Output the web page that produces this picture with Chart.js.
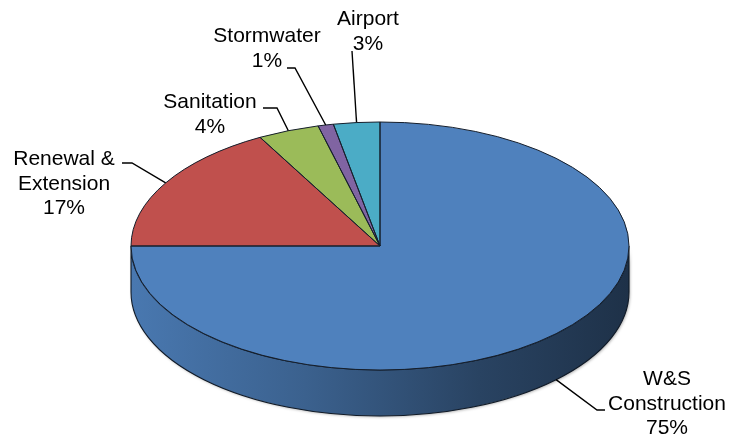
<!DOCTYPE html>
<html>
<head>
<meta charset="utf-8">
<script src="https://cdn.jsdelivr.net/npm/chart.js@4"></script>
<style>
  html, body { margin:0; padding:0; background:#fff; }
  #wrap { width:735px; height:440px; }
</style>
</head>
<body>
<div id="wrap"><canvas id="pie" width="735" height="440"></canvas></div>
<script>
// --------- DADOS ----------
const categories = [["W&S", "Construction"], ["Renewal &", "Extension"], ["Sanitation"], ["Stormwater"], ["Airport"]];
const shares = [75, 17, 4, 1, 3];
const sliceColors = ["#4F81BD", "#C0504D", "#9BBB59", "#8064A2", "#4BACC6"];

// --------- LAYOUT (elipse 3D e rótulos) ----------
const ell = { cx: 380, cy: 246, a: 249, b: 124, depth: 46 };
const labelPos = [ {x:667, y:385}, {x:64, y:165}, {x:210, y:108}, {x:267, y:42}, {x:368, y:25} ];
const leaderPts = [
    [[605,410],[597,410]],
    [[122,163],[132,163]],
    [[263,108],[277,108]],
    [[287,68],[295,68]],
    [[352,51]]
];
const lineH = 24.5;
const labelFont = "21px 'Liberation Sans', Arial, sans-serif";

function shade(hex, f){
    const n = parseInt(hex.slice(1), 16);
    const r = Math.round(((n>>16)&255)*f), g = Math.round(((n>>8)&255)*f), b = Math.round((n&255)*f);
    return `rgb(${r},${g},${b})`;
}

function ellPt(ang, dy){
    return [ell.cx + ell.a*Math.cos(ang), ell.cy + ell.b*Math.sin(ang) + (dy||0)];
}

// plugin que achata a pizza em elipse e desenha a lateral
const pie3d = {
    id: "pie3d",
    beforeDatasetsDraw(chart){
        const ctx = chart.ctx;
        const arcs = chart.getDatasetMeta(0).data;
        // lateral (somente a metade da frente)
        arcs.forEach((arc, i) => {
            const a0 = Math.max(arc.startAngle, 0);
            const a1 = Math.min(arc.endAngle, Math.PI);
            if(a1 <= a0) return;
            const base = sliceColors[i];
            const grad = ctx.createLinearGradient(ell.cx - ell.a, 0, ell.cx + ell.a, 0);
            grad.addColorStop(0, shade(base, 0.93));
            grad.addColorStop(0.35, shade(base, 0.75));
            grad.addColorStop(0.7, shade(base, 0.52));
            grad.addColorStop(1, shade(base, 0.38));
            ctx.save();
            ctx.beginPath();
            ctx.ellipse(ell.cx, ell.cy, ell.a, ell.b, 0, a0, a1);
            const p = ellPt(a1, ell.depth);
            ctx.lineTo(p[0], p[1]);
            ctx.ellipse(ell.cx, ell.cy + ell.depth, ell.a, ell.b, 0, a1, a0, true);
            ctx.closePath();
            ctx.shadowColor = "rgba(0,0,0,0.35)";
            ctx.shadowBlur = 3;
            ctx.shadowOffsetX = 1;
            ctx.shadowOffsetY = 1;
            ctx.fillStyle = grad;
            ctx.fill();
            ctx.shadowColor = "transparent";
            ctx.strokeStyle = "#101a27";
            ctx.lineWidth = 1.1;
            ctx.stroke();
            ctx.restore();
        });
        // achatamento das fatias desenhadas pelo Chart.js
        const arc = arcs[0];
        const R = arc.outerRadius;
        ctx.save();
        ctx.translate(ell.cx, ell.cy);
        ctx.scale(ell.a / R, ell.b / R);
        ctx.translate(-arc.x, -arc.y);
    },
    afterDatasetsDraw(chart){
        const ctx = chart.ctx;
        ctx.restore();
        const arcs = chart.getDatasetMeta(0).data;
        // contornos
        ctx.save();
        ctx.strokeStyle = "#151e2b";
        ctx.lineWidth = 1;
        arcs.forEach(arc => {
            ctx.beginPath();
            ctx.moveTo(ell.cx, ell.cy);
            const p = ellPt(arc.startAngle);
            ctx.lineTo(p[0], p[1]);
            ctx.ellipse(ell.cx, ell.cy, ell.a, ell.b, 0, arc.startAngle, arc.endAngle);
            ctx.closePath();
            ctx.stroke();
        });
        ctx.restore();

        // rótulos e linhas de chamada
        ctx.save();
        ctx.font = labelFont;
        ctx.fillStyle = "#000";
        ctx.textAlign = "center";
        ctx.textBaseline = "alphabetic";
        ctx.strokeStyle = "#000";
        ctx.lineWidth = 1.4;
        arcs.forEach((arc, i) => {
            const mid = (arc.startAngle + arc.endAngle) / 2;
            const front = Math.sin(mid) > 0.3;
            const anchor = ellPt(mid, front ? ell.depth : 0);
            const pts = leaderPts[i];
            ctx.beginPath();
            ctx.moveTo(pts[0][0], pts[0][1]);
            for(let k = 1; k < pts.length; k++) ctx.lineTo(pts[k][0], pts[k][1]);
            ctx.lineTo(anchor[0], anchor[1]);
            ctx.stroke();

            const lines = [].concat(categories[i], shares[i] + "%");
            lines.forEach((t, k) => ctx.fillText(t, labelPos[i].x, labelPos[i].y + k*lineH));
        });
        ctx.restore();
    }
};

new Chart(document.getElementById("pie"), {
    type: "pie",
    data: {
        labels: categories,
        datasets: [{
            data: shares,
            backgroundColor: sliceColors,
            borderWidth: 0,
            clip: false
        }]
    },
    options: {
        responsive: false,
        animation: false,
        events: [],
        layout: { padding: 20 },
        plugins: { legend: { display: false }, tooltip: { enabled: false } }
    },
    plugins: [pie3d]
});
</script>
</body>
</html>
